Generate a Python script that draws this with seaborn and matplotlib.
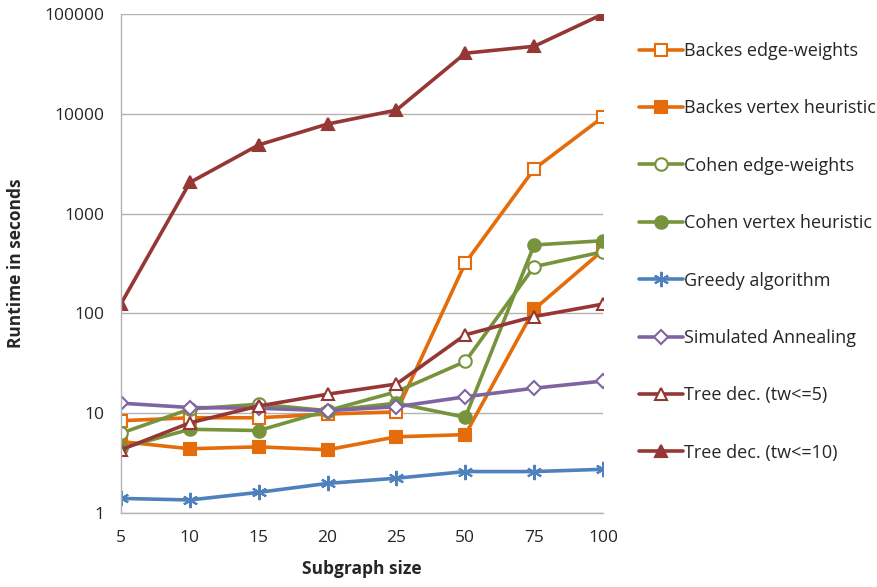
import seaborn as sns
import matplotlib.pyplot as plt
import matplotlib.ticker as mticker
import numpy as np

sizes = ['5', '10', '15', '20', '25', '50', '75', '100']

backes_edge = [8.4, 9.0, 9.0, 9.8, 10.3, 320, 2800, 9300]
backes_vertex = [5.2, 4.4, 4.6, 4.3, 5.8, 6.1, 110, 430]
cohen_edge = [6.3, 11, 12.3, 10.6, 16.4, 33, 294, 415]
cohen_vertex = [4.45, 6.9, 6.7, 10.6, 12.6, 9.1, 485, 535]
greedy = [1.4, 1.35, 1.61, 1.98, 2.23, 2.6, 2.6, 2.74]
annealing = [12.6, 11.4, 11.2, 10.6, 11.6, 14.6, 17.8, 21]
tree5 = [4.3, 8.0, 11.8, 15.5, 19.6, 61, 93, 124]
tree10 = [125, 2050, 4880, 7900, 10900, 40500, 47500, 100000]

series = [
    ('Backes edge-weights', backes_edge, '#E46C0A', 's', 'white'),
    ('Backes vertex heuristic', backes_vertex, '#E46C0A', 's', None),
    ('Cohen edge-weights', cohen_edge, '#77933C', 'o', 'white'),
    ('Cohen vertex heuristic', cohen_vertex, '#77933C', 'o', None),
    ('Greedy algorithm', greedy, '#4F81BD', (6, 2, 0), None),
    ('Simulated Annealing', annealing, '#8064A2', 'D', 'white'),
    ('Tree dec. (tw<=5)', tree5, '#953735', '^', 'white'),
    ('Tree dec. (tw<=10)', tree10, '#953735', '^', None),
]

sns.set_theme(style="white")
plt.rcParams['font.family'] = ['Open Sans', 'DejaVu Sans']

fig = plt.figure(figsize=(8.78, 5.87), dpi=100)
ax = fig.add_axes([0.1378, 0.1261, 0.549, 0.850])

xpos = np.arange(len(sizes))
for name, vals, col, mk, fc in series:
    ms = 7 if mk == 'D' else 9
    if mk == (6, 2, 0):
        ms = 11
    sns.lineplot(x=xpos, y=vals, ax=ax, color=col, marker=mk, markersize=ms,
                 markerfacecolor=fc if fc else col, markeredgecolor=col,
                 markeredgewidth=1.5, linewidth=2.6, label=name)

ax.set_yscale('log')
ax.set_ylim(1, 100000)
ax.set_xlim(0, len(sizes) - 1)
ax.set_xticks(xpos)
ax.set_xticklabels(sizes)
ax.yaxis.set_major_formatter(mticker.FuncFormatter(lambda v, p: f'{int(round(v))}'))
ax.yaxis.set_minor_locator(mticker.NullLocator())

ax.grid(axis='y', color='#B3B3B3', linewidth=1)
ax.set_axisbelow(True)
for s in ['top', 'right']:
    ax.spines[s].set_visible(False)
for s in ['left', 'bottom']:
    ax.spines[s].set_color('#B3B3B3')
    ax.spines[s].set_linewidth(1)
ax.tick_params(axis='both', which='major', direction='out', length=6, width=1,
               color='#B3B3B3', labelsize=12.5, labelcolor='#262626', pad=6)
for lbl in ax.get_xticklabels():
    lbl.set_clip_on(False)

ax.set_xlabel('Subgraph size', fontsize=12.5, fontweight='bold', color='#262626', labelpad=10)
ax.set_ylabel('Runtime in seconds', fontsize=12.5, fontweight='bold', color='#262626', labelpad=14)

ax.get_legend().remove()
handles, labels = ax.get_legend_handles_labels()
fig.legend(handles, labels, loc='upper left', bbox_to_anchor=(0.709, 0.956),
           frameon=False, fontsize=13, labelspacing=2.18, handlelength=2.45,
           handletextpad=0.08, labelcolor='#262626')

fig.savefig('out.png', dpi=100)
plt.close(fig)
